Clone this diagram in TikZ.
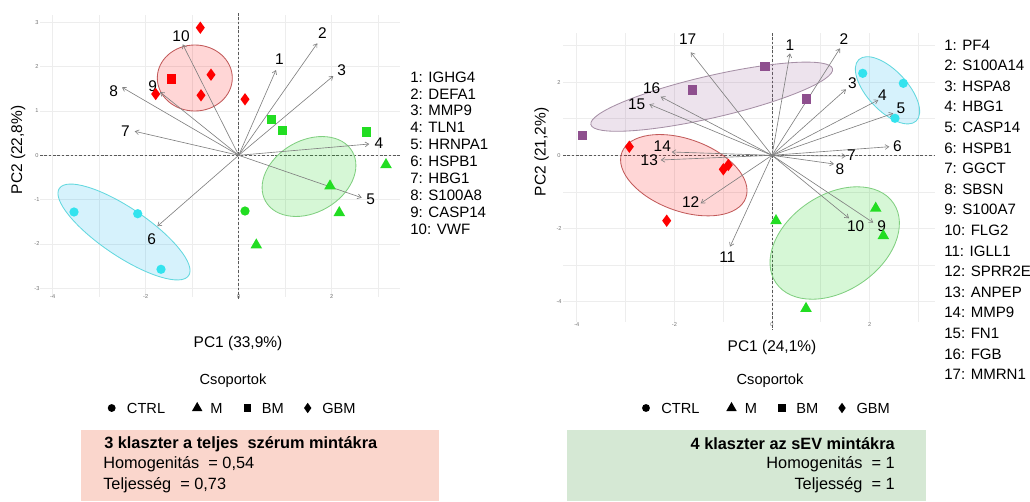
\documentclass[tikz,border=0pt]{standalone}
\usepackage{fontspec}
\setmainfont{Liberation Sans}
\usepackage{xcolor}
\usetikzlibrary{arrows.meta,calc,positioning,shapes.geometric}

\definecolor{mred}{HTML}{FF0000}
\definecolor{mgreen}{HTML}{22DD22}
\definecolor{mcyan}{HTML}{33E3EE}
\definecolor{mpurple}{HTML}{8E4F8E}
\definecolor{ered}{HTML}{C25A5A}
\definecolor{egreen}{HTML}{80CF80}
\definecolor{ecyan}{HTML}{62D8DE}
\definecolor{epurple}{HTML}{A690A6}
\definecolor{boxpink}{RGB}{250,214,204}
\definecolor{boxgreen}{RGB}{213,232,212}

\begin{document}
\begin{tikzpicture}[x=0.025cm,y=-0.025cm,font=\fontsize{11}{13}\selectfont,>={Straight Barb[length=2.6pt,width=3.4pt]}]
    \tikzset{
      gridline/.style={draw=black!7, line width=0.5pt},
      zeroline/.style={draw=black!65, line width=0.7pt, dash pattern=on 1.8pt off 1.3pt},
      loading/.style={->, draw=black!50, line width=0.45pt},
      ticklbl/.style={font=\fontsize{4}{4}\selectfont, text=black!55, inner sep=0pt},
      loadlbl/.style={inner sep=0pt},
      ptcirc/.style={circle, fill=#1, minimum size=6.6pt, inner sep=0pt},
      pttri/.style={regular polygon, regular polygon sides=3, fill=#1, minimum size=9.5pt, inner sep=0pt},
      ptsq/.style={rectangle, fill=#1, minimum size=6.8pt, inner sep=0pt},
      ptdia/.style={diamond, fill=#1, minimum width=6.6pt, minimum height=9pt, inner sep=0pt},
      clust/.style 2 args={draw=#1, fill=#2, fill opacity=0.16, line width=0.6pt},
      genelist/.style={anchor=west, inner sep=0pt, font=\fontsize{10.7}{12}\selectfont},
      legtext/.style={anchor=west, inner sep=0pt, font=\fontsize{10.4}{12}\selectfont},
      boxtext/.style={inner sep=0pt, font=\fontsize{11.6}{13}\selectfont}
    }
    \useasboundingbox (0,0) rectangle (1030,501);
    % left panel: grid and zero lines
    \foreach \k in {-4,...,3}
      \draw[gridline] ({238.7+46.5*\k},15) -- ({238.7+46.5*\k},297);
    \foreach \k in {-3,...,3}
      \draw[gridline] (40,{155.3-44.3*\k}) -- (400,{155.3-44.3*\k});
    \foreach \k in {-3,...,3}
      \node[ticklbl] (yA\k) at (37,{155.3-44.3*\k}) {\k};
    \foreach \k in {-4,-2,0,2}
      \node[ticklbl] (xA\k) at ({238.7+46.5*\k},297) {\k};
    \draw[zeroline] (238.7,13) -- (238.7,300);
    \draw[zeroline] (40,155.3) -- (400,155.3);
    % left panel: clusters
    \filldraw[clust={ered}{red}] (194.8,78) ellipse [x radius=37.5, y radius=33];
    \filldraw[clust={egreen}{green!80!black}, rotate around={30:(309,176.5)}] (309,176.5) ellipse [x radius=50, y radius=36];
    \filldraw[clust={ecyan}{cyan}, rotate around={-34:(124,232)}] (124,232) ellipse [x radius=78, y radius=24];
    % left panel: loadings
    \coordinate (oA) at (238.7,155.3);
    \foreach \i/\ex/\ey/\lx/\ly in {1/276/70/279.3/59.3, 2/317.3/43.3/322.3/33.3,
        3/333.3/76/341.7/70, 4/369.3/144/379/143.3, 5/361.7/197.7/370.7/199,
        6/157.3/226.3/151.7/239.3, 7/134.7/131.3/125.3/130.7, 8/122/87.3/113.7/91.3,
        9/160/92/152.7/86, 10/182.7/44.3/181/35.7} {
      \coordinate (tipA\i) at (\ex,\ey);
      \draw[loading] (oA) -- (tipA\i);
      \node[loadlbl] (numA\i) at (\lx,\ly) {\i};
    }
    % left panel: samples
    \foreach \px/\py/\c [count=\k] in {74/212/mcyan, 137.7/213.7/mcyan, 161/269.3/mcyan, 245/211/mgreen}
      \node[ptcirc=\c] (cA\k) at (\px,\py) {};
    \foreach \px/\py [count=\k] in {386/164.7, 330/186, 339.3/212.7, 256.3/245}
      \node[pttri=mgreen] (tA\k) at (\px,\py) {};
    \foreach \px/\py/\c [count=\k] in {271.7/119.3/mgreen, 282.3/130.7/mgreen, 366.7/132/mgreen, 171.7/79/mred}
      \node[ptsq=\c] (sA\k) at (\px,\py) {};
    \foreach \px/\py [count=\k] in {200.3/27.7, 211/74.7, 201/95.3, 155.7/94, 245/99.3}
      \node[ptdia=mred] (dA\k) at (\px,\py) {};
    \node[rotate=90] (pc2A) at (18,150) {PC2 (22,8\%)};
    \node (pc1A) at (238,343) {PC1 (33,9\%)};
    \foreach \g [count=\k] in {IGHG4,DEFA1,MMP9,TLN1,HRNPA1,HSPB1,HBG1,S100A8,CASP14,VWF}
      \node[genelist] (gA\k) at (410,{77+16.9*(\k-1)}) {\k: \g};

    % right panel: grid and zero lines
    \foreach \k in {-4,...,3}
      \draw[gridline] ({772+48.8*\k},33) -- ({772+48.8*\k},322);
    \foreach \k in {-4,...,3}
      \draw[gridline] (563,{155.3-36.6*\k}) -- (935,{155.3-36.6*\k});
    \foreach \k in {-4,-2,0,2}
      \node[ticklbl] (yB\k) at (559,{155.3-36.6*\k}) {\k};
    \foreach \k in {-4,-2,0,2}
      \node[ticklbl] (xB\k) at ({772+48.8*\k},325) {\k};
    \draw[zeroline] (772,33) -- (772,330);
    \draw[zeroline] (563,155.3) -- (935,155.3);
    % right panel: clusters
    \filldraw[clust={epurple}{mpurple}, rotate around={13:(711.7,96.7)}] (711.7,96.7) ellipse [x radius=124, y radius=21];
    \filldraw[clust={ered}{red}, rotate around={-20:(683.8,175.2)}] (683.8,175.2) ellipse [x radius=66, y radius=36];
    \filldraw[clust={egreen}{green!80!black}, rotate around={34:(834.7,243)}] (834.7,243) ellipse [x radius=71, y radius=48];
    \filldraw[clust={ecyan}{cyan}, rotate around={-47:(887.5,90.3)}] (887.5,90.3) ellipse [x radius=42, y radius=20];
    % right panel: loadings
    \coordinate (oB) at (772,155.3);
    \foreach \i/\ex/\ey/\lx/\ly in {1/790/53.3/790/45, 2/840/48.3/844/39,
        3/846/89.3/852.3/83.3, 4/878.3/100/882.3/95, 5/893.3/113.3/901/108.3,
        6/889.3/146.7/897.5/145.7, 7/846/156/851.5/155.3, 8/834/164/840/169,
        9/873.3/222.7/881.7/225.7, 10/849/218.3/855.7/225.7, 11/730/246.7/727.3/256.7,
        12/700.7/203.3/690.7/202.3, 13/660.7/160/649.3/160.3, 14/671.7/152/662.3/146,
        15/649.3/104.3/636.7/104, 16/660.7/96.7/651.7/88, 17/690.7/52.3/687.7/39} {
      \coordinate (tipB\i) at (\ex,\ey);
      \draw[loading] (oB) -- (tipB\i);
      \node[loadlbl] (numB\i) at (\lx,\ly) {\i};
    }
    % right panel: samples
    \foreach \px/\py [count=\k] in {862.7/73.3, 903.3/83.3, 895/118.3}
      \node[ptcirc=mcyan] (cB\k) at (\px,\py) {};
    \foreach \px/\py [count=\k] in {776/220.7, 875.7/208.3, 883.3/235.7, 806/308.5}
      \node[pttri=mgreen] (tB\k) at (\px,\py) {};
    \foreach \px/\py [count=\k] in {582.3/135.7, 692.7/90, 765/66.7, 806.7/99}
      \node[ptsq=mpurple] (sB\k) at (\px,\py) {};
    \foreach \px/\py [count=\k] in {629.3/146.7, 723.3/169.3, 728.3/165, 666.7/220.7}
      \node[ptdia=mred] (dB\k) at (\px,\py) {};
    \node[rotate=90] (pc2B) at (541.5,152) {PC2 (21,2\%)};
    \node (pc1B) at (772,347) {PC1 (24,1\%)};
    \foreach \g [count=\k] in {PF4,S100A14,HSPA8,HBG1,CASP14,HSPB1,GGCT,SBSN,S100A7,FLG2,IGLL1,SPRR2E,ANPEP,MMP9,FN1,FGB,MMRN1}
      \node[genelist] (gB\k) at (944,{45+20.6*(\k-1)}) {\k: \g};

    % legends
    \foreach \b/\s/\cx in {111.7/A/233, 646/B/770} {
      \node[font=\fontsize{10.4}{12}\selectfont] (leg\s) at (\cx,381) {Csoportok};
      \node[ptcirc=black, minimum size=5.6pt] (lc\s) at (\b,408) {};
      \node[legtext] (lct\s) at (\b+15,408) {CTRL};
      \node[pttri=black, minimum size=8.6pt] (lt\s) at (\b+85.5,408) {};
      \node[legtext] (ltt\s) at (\b+98.5,408) {M};
      \node[ptsq=black, minimum size=5pt] (ls\s) at (\b+136,408) {};
      \node[legtext] (lst\s) at (\b+150,408) {BM};
      \node[ptdia=black, minimum width=5.4pt, minimum height=7.6pt] (ld\s) at (\b+196,408) {};
      \node[legtext] (ldt\s) at (\b+210.3,408) {GBM};
    }

    % summary boxes
    \fill[boxpink] (81,430) rectangle (439,501);
    \node[boxtext, anchor=west, font=\fontsize{11.6}{13}\selectfont\bfseries] (hdA) at (104,444) {3 klaszter a teljes \ szérum mintákra};
    \node[boxtext, anchor=west] (homA) at (103,464) {Homogenitás \ = 0,54};
    \node[boxtext, anchor=west] (telA) at (103,485) {Teljesség \ = 0,73};
    \fill[boxgreen] (567,430) rectangle (926,501);
    \node[boxtext, anchor=east, font=\fontsize{11.6}{13}\selectfont\bfseries] (hdB) at (895,444) {4 klaszter az sEV mintákra};
    \node[boxtext, anchor=east] (homB) at (895,464) {Homogenitás \ = 1};
    \node[boxtext, anchor=east] (telB) at (895,485) {Teljesség \ = 1};
  \end{tikzpicture}
\end{document}
